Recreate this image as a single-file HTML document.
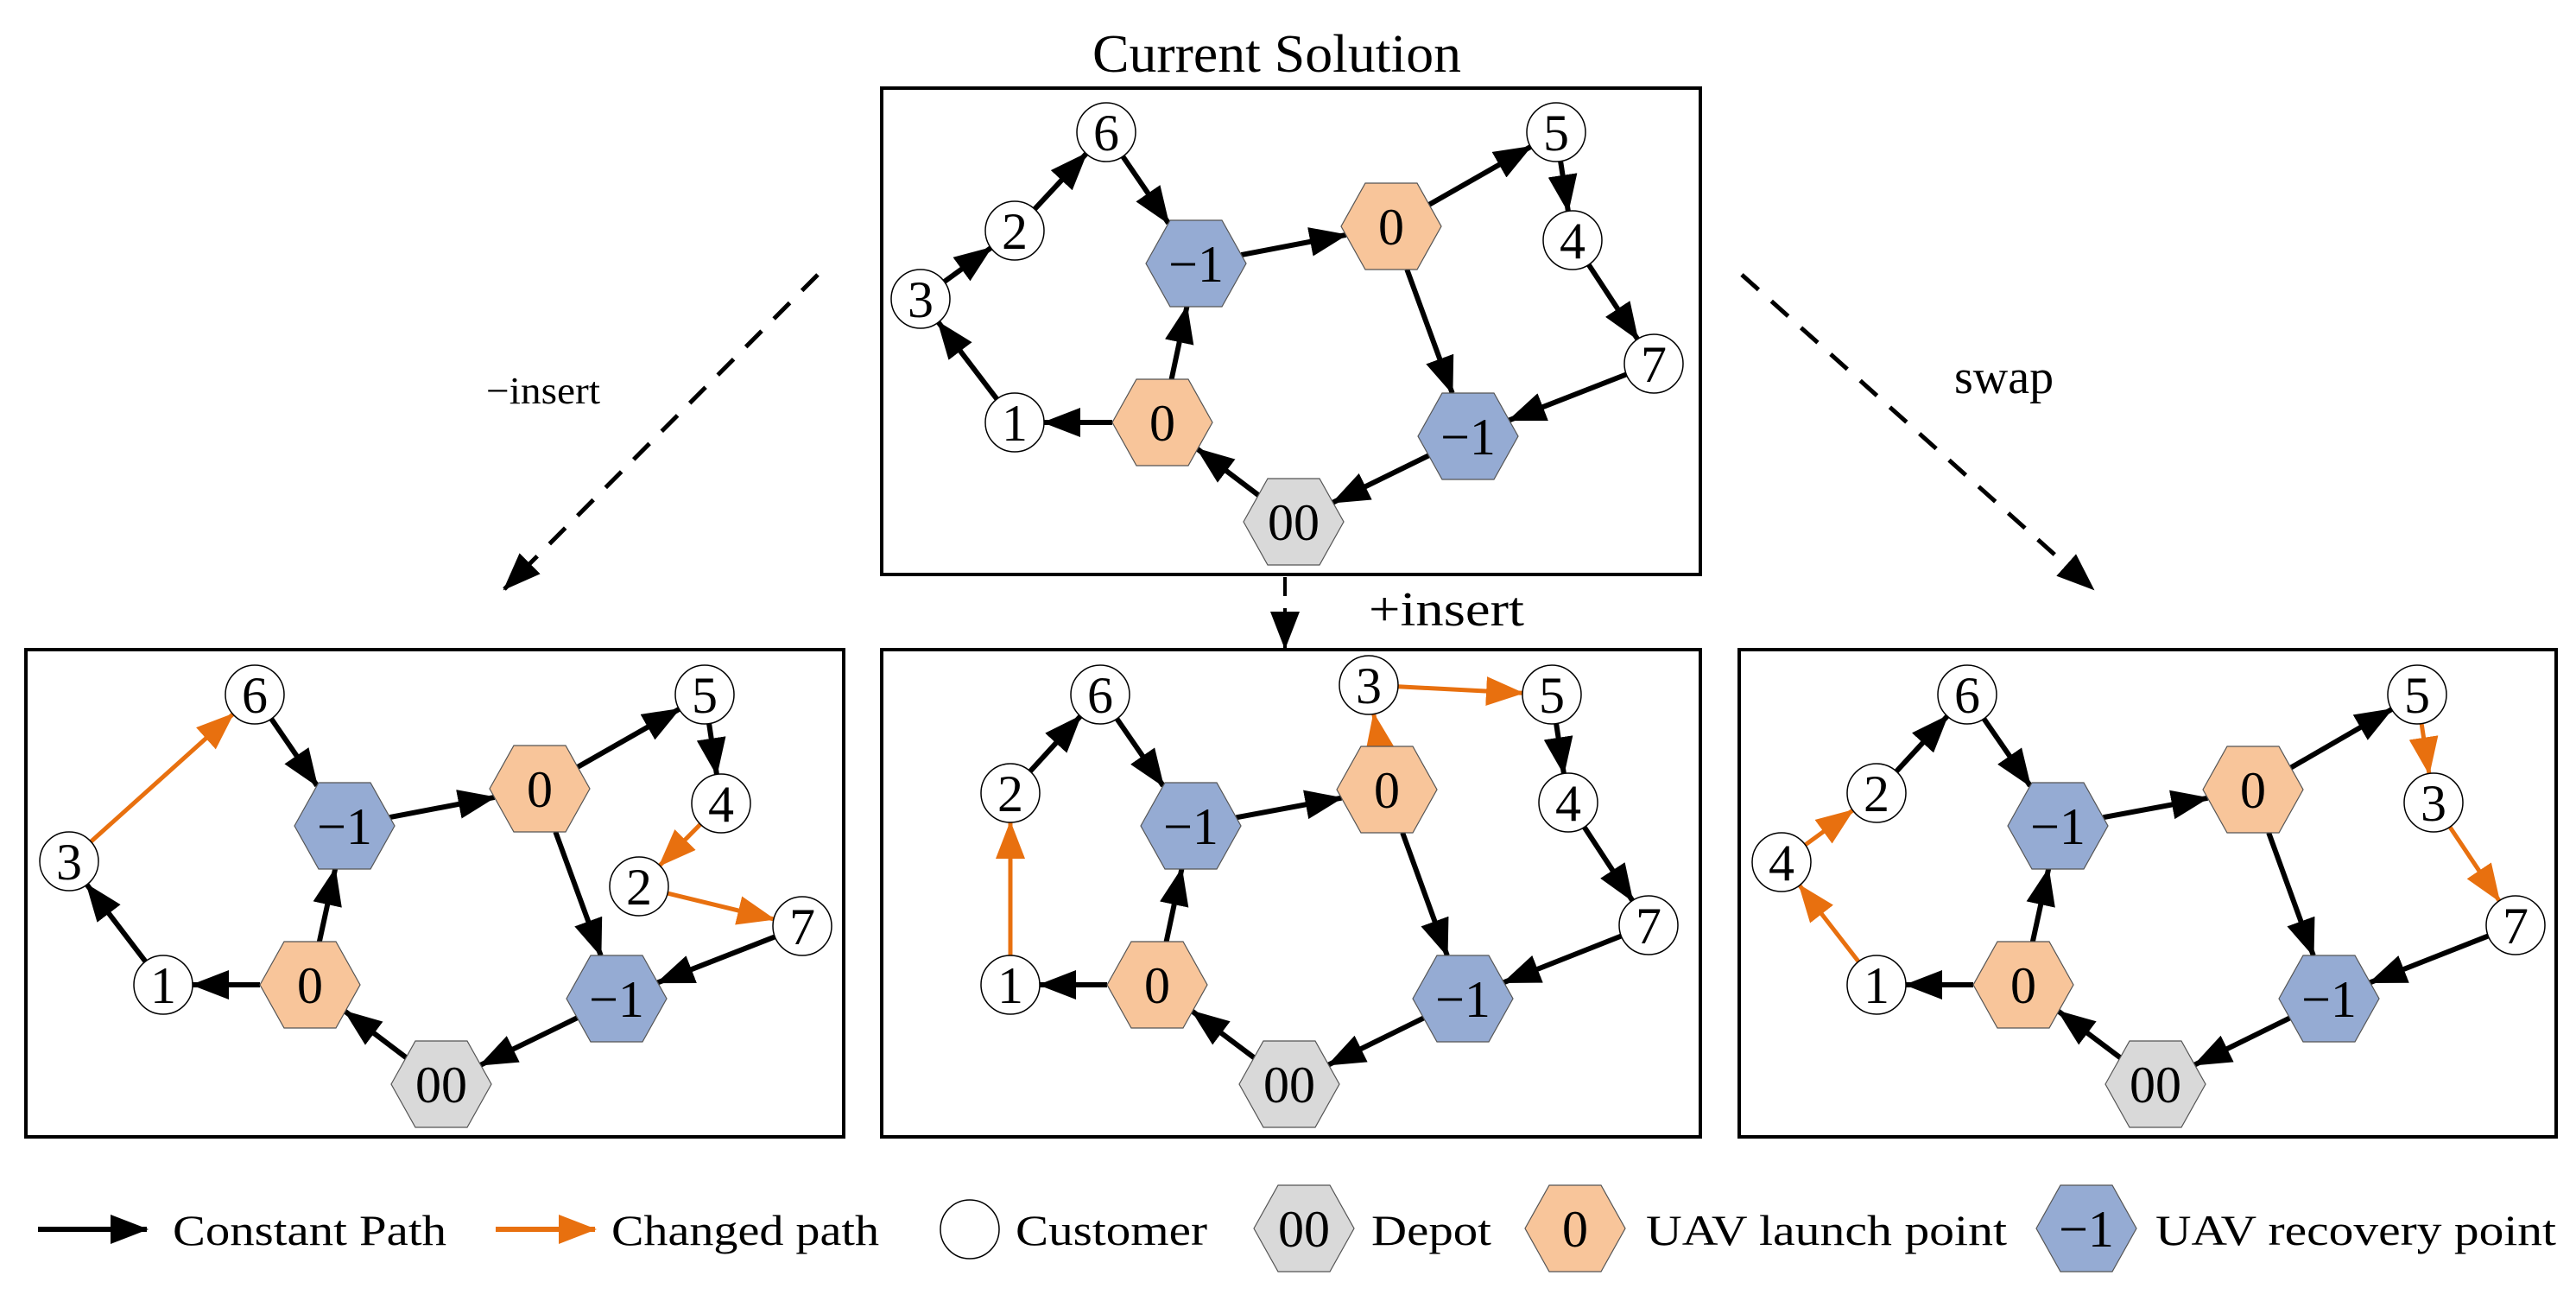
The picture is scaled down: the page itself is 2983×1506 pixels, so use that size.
<!DOCTYPE html>
<html><head><meta charset="utf-8">
<style>
html,body{margin:0;padding:0;background:#fff;}
svg{display:block;}
</style></head>
<body>
<svg id="s" xmlns="http://www.w3.org/2000/svg" width="2983" height="1506" viewBox="0 0 2983 1506" font-family="'Liberation Serif', serif">
<defs>
<marker id="ab" markerUnits="userSpaceOnUse" markerWidth="44" markerHeight="34" refX="42" refY="17" orient="auto"><path d="M0,0 L44,17 L0,34 Z" fill="#000"/></marker>
<marker id="ao" markerUnits="userSpaceOnUse" markerWidth="44" markerHeight="34" refX="42" refY="17" orient="auto"><path d="M0,0 L44,17 L0,34 Z" fill="#E8700F"/></marker>
<marker id="ad" markerUnits="userSpaceOnUse" markerWidth="44" markerHeight="34" refX="42" refY="17" orient="auto"><path d="M0,0 L44,17 L0,34 Z" fill="#000"/></marker>
</defs>
<rect width="2983" height="1506" fill="#fff"/>
<text x="1265" y="83" font-size="62" textLength="427" lengthAdjust="spacingAndGlyphs" font-family="Liberation Serif, serif">Current Solution</text>
<text x="563" y="467" font-size="44" textLength="132" lengthAdjust="spacingAndGlyphs" font-family="Liberation Serif, serif">−insert</text>
<text x="2263" y="455" font-size="56" font-family="Liberation Serif, serif">swap</text>
<text x="1585" y="724" font-size="56" textLength="180" lengthAdjust="spacingAndGlyphs" font-family="Liberation Serif, serif">+insert</text>
<line x1="947" y1="318" x2="584" y2="682" stroke="#000" stroke-width="5" stroke-dasharray="26,20" marker-end="url(#ad)"/>
<line x1="2017" y1="318" x2="2424" y2="682" stroke="#000" stroke-width="5" stroke-dasharray="26,20" marker-end="url(#ad)"/>
<line x1="1488" y1="668" x2="1488" y2="750" stroke="#000" stroke-width="4" stroke-dasharray="22,14" marker-end="url(#ad)"/>
<g id="g"></g>
</svg>
<script>
var NS="http://www.w3.org/2000/svg",G=document.getElementById('g');
var FF="Liberation Serif, serif";
function el(t,a,txt){var e=document.createElementNS(NS,t);for(var k in a)e.setAttribute(k,a[k]);if(t=='text')e.setAttribute('font-family',FF);if(txt!==undefined)e.textContent=txt;G.appendChild(e);return e;}
var HW=58,HT=30,HH=50,R=34;
function hexPts(x,y){return [[x-HW,y],[x-HT,y-HH],[x+HT,y-HH],[x+HW,y],[x+HT,y+HH],[x-HT,y+HH]];}
var COL={L:"#F8C59A",R:"#95ABD3",D:"#D9D9D9"};
function drawNode(n){
 if(n.t=="C"){el('circle',{cx:n.x,cy:n.y,r:R,fill:'#fff',stroke:'#000','stroke-width':1.5});}
 else{el('polygon',{points:hexPts(n.x,n.y).map(function(p){return p.join(',')}).join(' '),fill:COL[n.t],stroke:'#555','stroke-width':1.2});}
 el('text',{x:n.x,y:n.y+21,'font-size':60,'text-anchor':'middle'},n.l);
}
function clipDist(n,dx,dy){
 if(n.t=="C")return R;
 var P=hexPts(0,0),best=1e9;
 for(var i=0;i<6;i++){var a=P[i],b=P[(i+1)%6];
  var ex=b[0]-a[0],ey=b[1]-a[1];var den=dx*ey-dy*ex;if(Math.abs(den)<1e-9)continue;
  var t=(a[0]*ey-a[1]*ex)/den;var u=(a[0]*dy-a[1]*dx)/den;
  if(t>0&&u>=-1e-6&&u<=1+1e-6&&t<best)best=t;}
 return best;
}
function edge(a,b,o){
 var dx=b.x-a.x,dy=b.y-a.y,L=Math.hypot(dx,dy);dx/=L;dy/=L;
 var s=clipDist(a,dx,dy),e=clipDist(b,-dx,-dy);
 el('line',{x1:a.x+dx*s,y1:a.y+dy*s,x2:b.x-dx*e,y2:b.y-dy*e,stroke:o?'#E8700F':'#000','stroke-width':o?5:6,'marker-end':o?'url(#ao)':'url(#ab)'});
}
function panel(box,nodes,edges){
 el('rect',{x:box[0],y:box[1],width:box[2]-box[0],height:box[3]-box[1],fill:'none',stroke:'#000','stroke-width':4});
 edges.forEach(function(e){edge(nodes[e[0]],nodes[e[1]],e[2]);});
 for(var k in nodes)drawNode(nodes[k]);
}
function N(t,l,x,y){return {t:t,l:l,x:x,y:y};}
panel([1021,102,1969,665],{
 c6:N('C','6',1281,153),c2:N('C','2',1175,267),c3:N('C','3',1066,346),c1:N('C','1',1175,489),
 R1:N('R','−1',1385,305),L1:N('L','0',1611,262),c5:N('C','5',1802,153),c4:N('C','4',1821,278),
 c7:N('C','7',1915,421),L2:N('L','0',1346,489),R2:N('R','−1',1700,505),D:N('D','00',1498,604)
},[['c3','c2'],['c2','c6'],['c6','R1'],['R1','L1'],['L1','c5'],['c5','c4'],['c4','c7'],['c7','R2'],['R2','D'],['D','L2'],['L2','c1'],['c1','c3'],['L2','R1'],['L1','R2']]);
panel([30,752,977,1316],{
 c6:N('C','6',295,804),c3:N('C','3',80,997),c1:N('C','1',189,1140),
 R1:N('R','−1',399,956),L1:N('L','0',625,913),c5:N('C','5',816,804),c4:N('C','4',835,930),
 c2:N('C','2',740,1026),c7:N('C','7',929,1072),L2:N('L','0',359,1140),R2:N('R','−1',714,1156),D:N('D','00',511,1255)
},[['c3','c6',1],['c6','R1'],['R1','L1'],['L1','c5'],['c5','c4'],['c4','c2',1],['c2','c7',1],['c7','R2'],['R2','D'],['D','L2'],['L2','c1'],['c1','c3'],['L2','R1'],['L1','R2']]);
panel([1021,752,1969,1316],{
 c6:N('C','6',1274,804),c2:N('C','2',1170,918),c1:N('C','1',1170,1140),c3:N('C','3',1585,793),
 c5:N('C','5',1797,804),c4:N('C','4',1816,929),c7:N('C','7',1909,1071),
 R1:N('R','−1',1379,956),L1:N('L','0',1606,914),L2:N('L','0',1340,1140),R2:N('R','−1',1694,1156),D:N('D','00',1493,1255)
},[['c1','c2',1],['c2','c6'],['c6','R1'],['R1','L1'],['L1','c3',1],['c3','c5',1],['c5','c4'],['c4','c7'],['c7','R2'],['R2','D'],['D','L2'],['L2','c1'],['L2','R1'],['L1','R2']]);
panel([2014,752,2960,1316],{
 c6:N('C','6',2278,804),c2:N('C','2',2173,918),c4:N('C','4',2063,998),c1:N('C','1',2173,1140),
 R1:N('R','−1',2383,956),L1:N('L','0',2609,914),c5:N('C','5',2799,804),c3:N('C','3',2818,929),
 c7:N('C','7',2913,1071),L2:N('L','0',2343,1140),R2:N('R','−1',2697,1156),D:N('D','00',2496,1255)
},[['c1','c4',1],['c4','c2',1],['c2','c6'],['c6','R1'],['R1','L1'],['L1','c5'],['c5','c3',1],['c3','c7',1],['c7','R2'],['R2','D'],['D','L2'],['L2','c1'],['L2','R1'],['L1','R2']]);
el('line',{x1:44,y1:1423,x2:170,y2:1423,stroke:'#000','stroke-width':6,'marker-end':'url(#ab)'});
el('text',{x:200,y:1441,'font-size':50,textLength:317,lengthAdjust:'spacingAndGlyphs'},'Constant Path');
el('line',{x1:574,y1:1423,x2:689,y2:1423,stroke:'#E8700F','stroke-width':6,'marker-end':'url(#ao)'});
el('text',{x:708,y:1441,'font-size':50,textLength:310,lengthAdjust:'spacingAndGlyphs'},'Changed path');
el('circle',{cx:1123,cy:1423,r:34,fill:'#fff',stroke:'#000','stroke-width':1.5});
el('text',{x:1176,y:1441,'font-size':50,textLength:222,lengthAdjust:'spacingAndGlyphs'},'Customer');
[['D','00',1510],['L','0',1824],['R','−1',2416]].forEach(function(h){drawNode({t:h[0],l:h[1],x:h[2],y:1422});});
el('text',{x:1588,y:1441,'font-size':50,textLength:139,lengthAdjust:'spacingAndGlyphs'},'Depot');
el('text',{x:1906,y:1441,'font-size':50,textLength:418,lengthAdjust:'spacingAndGlyphs'},'UAV launch point');
el('text',{x:2496,y:1441,'font-size':50,textLength:464,lengthAdjust:'spacingAndGlyphs'},'UAV recovery point');
</script>
</body></html>
